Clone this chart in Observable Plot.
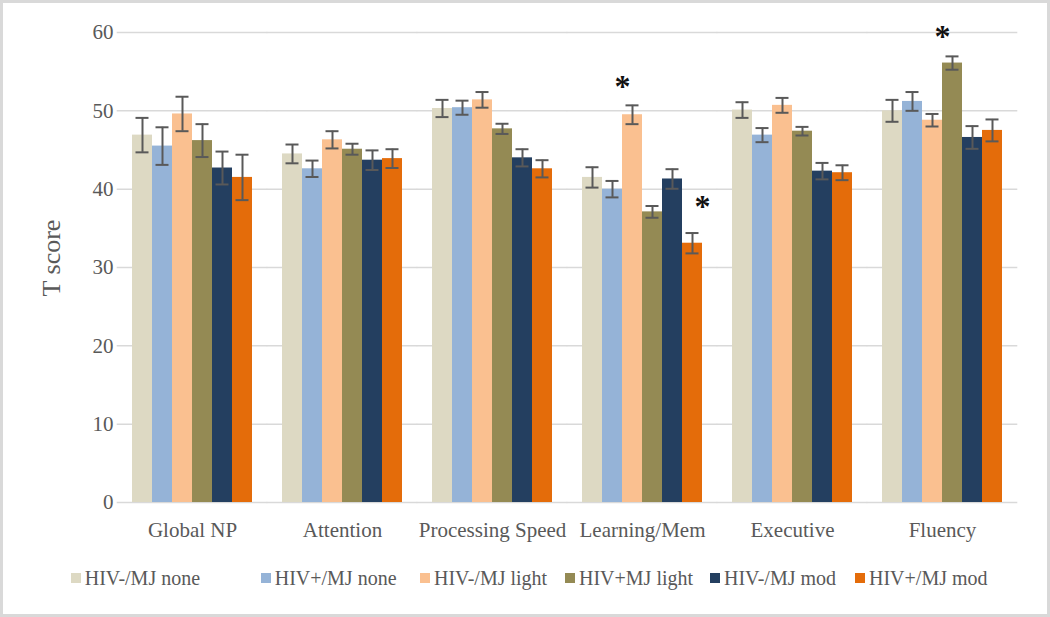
<!DOCTYPE html>
<html>
<head>
<meta charset="utf-8">
<script src="https://cdn.jsdelivr.net/npm/d3@7"></script>
<script src="https://cdn.jsdelivr.net/npm/@observablehq/plot@0.6"></script>
<style>
  body { margin: 0; background: #fff; }
  #wrap { position: relative; width: 1050px; height: 617px; overflow: hidden; font-family: "Liberation Serif", serif; background: #fff; }
  #frame { position: absolute; left: 0; top: 0; width: 1050px; height: 617px; box-sizing: border-box; border: 3px solid #d9d9d9; pointer-events: none; }
  #chart { position: absolute; left: 0; top: 0; }
  #ylabel { position: absolute; left: 52px; top: 258px; transform: translate(-50%, -50%) rotate(-90deg); font-size: 26px; color: #595959; white-space: nowrap; }
  #legend { position: absolute; top: 565px; left: 0; width: 1050px; height: 26px; }
  .item { position: absolute; top: 0; height: 26px; display: flex; align-items: center; font-size: 20px; color: #595959; white-space: nowrap; }
  .sw { width: 10px; height: 10px; margin-right: 4px; }
</style>
</head>
<body>
<div id="wrap">
  <div id="chart"></div>
  <div id="ylabel">T score</div>
  <div id="legend"></div>
  <div id="frame"></div>
</div>
<script>
const domains = ["Global NP", "Attention", "Processing Speed", "Learning/Mem", "Executive", "Fluency"];
const series = ["HIV-/MJ none", "HIV+/MJ none", "HIV-/MJ light", "HIV+MJ light", "HIV-/MJ mod", "HIV+/MJ mod"];
const colors = ["#ddd9c3", "#95b3d7", "#fac090", "#948a54", "#243f60", "#e46c0a"];

// Mean T scores per series (order of domains)
const hivNegNone  = [46.9, 44.5, 50.3, 41.5, 50.1, 50.0];
const hivPosNone  = [45.5, 42.6, 50.4, 40.0, 46.9, 51.2];
const hivNegLight = [49.6, 46.3, 51.4, 49.5, 50.7, 48.8];
const hivPosLight = [46.2, 45.1, 47.7, 37.1, 47.4, 56.1];
const hivNegMod   = [42.7, 43.7, 44.0, 41.3, 42.3, 46.6];
const hivPosMod   = [41.5, 43.9, 42.6, 33.1, 42.1, 47.5];

// Standard errors
const seNegNone  = [2.2, 1.2, 1.1, 1.3, 1.0, 1.4];
const sePosNone  = [2.4, 1.05, 0.9, 1.05, 0.9, 1.2];
const seNegLight = [2.2, 1.1, 1.0, 1.2, 0.95, 0.8];
const sePosLight = [2.1, 0.7, 0.65, 0.75, 0.55, 0.85];
const seNegMod   = [2.1, 1.25, 1.1, 1.25, 1.05, 1.45];
const sePosMod   = [2.9, 1.2, 1.1, 1.3, 0.95, 1.4];

const yTicks = [0, 10, 20, 30, 40, 50, 60];

// Significance markers
const starsLeft  = [{domain: "Learning/Mem", series: "HIV-/MJ light", y: 53.5}, {domain: "Fluency", series: "HIV+MJ light", y: 59.9}];
const starsRight = [{domain: "Learning/Mem", series: "HIV+/MJ mod", y: 38.2}];

const valueLists = [hivNegNone, hivPosNone, hivNegLight, hivPosLight, hivNegMod, hivPosMod];
const seLists = [seNegNone, sePosNone, seNegLight, sePosLight, seNegMod, sePosMod];

const data = [];
domains.forEach((dom, i) => {
  series.forEach((s, j) => {
    data.push({domain: dom, series: s, value: valueLists[j][i], se: seLists[j][i]});
  });
});

const errColor = "#595959";
const textColor = "#595959";

const chart = Plot.plot({
  width: 1050,
  height: 560,
  marginLeft: 115,
  marginRight: 31,
  marginTop: 32,
  marginBottom: 58,
  style: {fontFamily: "Liberation Serif, serif", background: "transparent", color: textColor},
  fx: {domain: domains, paddingInner: 0.2, paddingOuter: 0.1, label: null},
  x: {domain: series, padding: 0, axis: null},
  y: {domain: [0, 60], label: null},
  color: {domain: series, range: colors},
  marks: [
    Plot.ruleY(yTicks, {stroke: "#d9d9d9", strokeWidth: 1.5, insetLeft: -15.3, insetRight: -15.3}),
    Plot.axisY({ticks: yTicks, tickSize: 0, tickPadding: 19, fontSize: 21, label: null, fill: textColor}),
    Plot.axisFx({anchor: "bottom", tickSize: 0, tickPadding: 20, fontSize: 21, label: null, fill: textColor}),
    Plot.barY(data, {fx: "domain", x: "series", y: "value", fill: "series"}),
    Plot.ruleX(data, {fx: "domain", x: "series", y1: d => d.value - d.se, y2: d => d.value + d.se, stroke: errColor, strokeWidth: 2}),
    Plot.tickY(data, {fx: "domain", x: "series", y: d => d.value - d.se, stroke: errColor, strokeWidth: 2, insetLeft: 3.5, insetRight: 3.5}),
    Plot.tickY(data, {fx: "domain", x: "series", y: d => d.value + d.se, stroke: errColor, strokeWidth: 2, insetLeft: 3.5, insetRight: 3.5}),
    Plot.text(starsLeft, {fx: "domain", x: "series", y: "y", text: () => "*", fontSize: 32, fontWeight: "bold", fill: "#111", dx: -10, dy: 3}),
    Plot.text(starsRight, {fx: "domain", x: "series", y: "y", text: () => "*", fontSize: 32, fontWeight: "bold", fill: "#111", dx: 10, dy: 3})
  ]
});
document.getElementById("chart").appendChild(chart);

// Legend
const legendLeft = [70.7, 260.7, 420, 565, 710, 855];
const legend = document.getElementById("legend");
series.forEach((s, i) => {
  const item = document.createElement("div");
  item.className = "item";
  item.style.left = legendLeft[i] + "px";
  const sw = document.createElement("span");
  sw.className = "sw";
  sw.style.background = colors[i];
  const label = document.createElement("span");
  label.textContent = s;
  item.appendChild(sw);
  item.appendChild(label);
  legend.appendChild(item);
});
</script>
</body>
</html>
